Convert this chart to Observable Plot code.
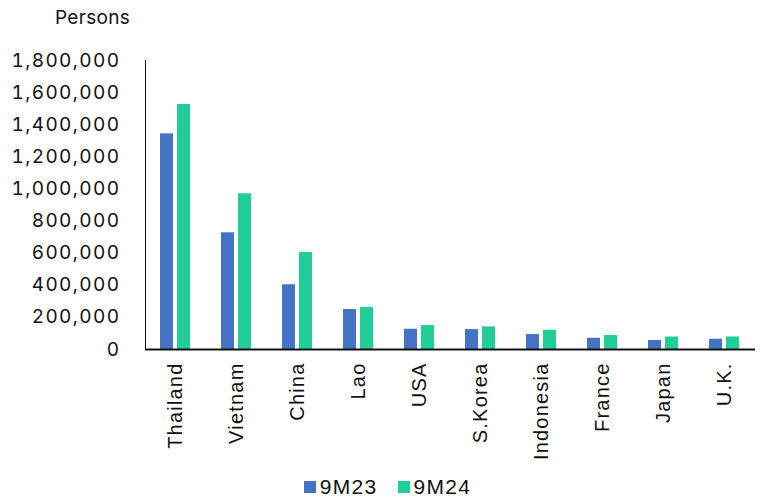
<!DOCTYPE html>
<html>
<head>
<meta charset="utf-8">
<script src="https://cdn.jsdelivr.net/npm/d3@7"></script>
<script src="https://cdn.jsdelivr.net/npm/@observablehq/plot@0.6"></script>
<style>
  html, body { margin: 0; padding: 0; background: #fff; }
  #wrap { position: relative; width: 769px; font-family: "Liberation Sans", Arial, sans-serif; color: #111; }
  #unit { position: absolute; left: 55px; top: 6px; font-family: Inter, sans-serif; font-size: 19px; letter-spacing: 0.3px; }
  #legend { display: flex; justify-content: center; align-items: center; gap: 20px; height: 33px; padding-top: 5px; font-size: 21px; letter-spacing: 1.3px; padding-left: 6px; }
  #legend span.sw { display: inline-block; width: 12px; height: 12px; margin-right: 4px; }
  #legend .item { display: flex; align-items: center; }
  svg g[aria-label="y-axis tick label"] text { font-family: Inter, sans-serif; font-size: 19px; letter-spacing: 1.4px; }
  svg g[aria-label="fx-axis tick label"] text { font-size: 20px; letter-spacing: 1.2px; }
</style>
</head>
<body>
<div id="wrap">
  <div id="unit">Persons</div>
  <div id="chart"></div>
  <div id="legend"></div>
</div>
<script>
// Visitor arrivals by nationality, first nine months of 2023 vs 2024
const countries = ["Thailand", "Vietnam", "China", "Lao", "USA", "S.Korea", "Indonesia", "France", "Japan", "U.K."];
const series = ["9M23", "9M24"];
const arrivals9M23 = [1343000, 727000, 403000, 249000, 126000, 124000, 93000, 70000, 56000, 64000];
const arrivals9M24 = [1526000, 970000, 604000, 262000, 149000, 141000, 120000, 87000, 78000, 78000];
const colors = ["#4472C4", "#21CE99"];
const yTicks = [0, 200000, 400000, 600000, 800000, 1000000, 1200000, 1400000, 1600000, 1800000];

const rows = [];
countries.forEach((c, i) => {
  rows.push({country: c, period: series[0], value: arrivals9M23[i]});
  rows.push({country: c, period: series[1], value: arrivals9M24[i]});
});

const chart = Plot.plot({
  width: 769,
  height: 465,
  marginLeft: 143,
  marginRight: 12,
  marginTop: 60,
  marginBottom: 116,
  style: {fontFamily: '"Liberation Sans", Arial, sans-serif', fontSize: "18px", color: "#111", background: "#fff"},
  fx: {domain: countries, padding: 0, label: null, tickSize: 0, tickPadding: 13, tickRotate: -90},
  x: {domain: series, axis: null, paddingInner: 0.22, paddingOuter: 0.815},
  y: {domain: [0, 1800000], ticks: yTicks, tickFormat: d3.format(","), tickSize: 0, tickPadding: 25, label: null, line: true},
  color: {domain: series, range: colors},
  marks: [
    Plot.barY(rows, {fx: "country", x: "period", y: "value", fill: "period"}),
    Plot.ruleY([0], {stroke: "#111", strokeWidth: 2})
  ]
});
document.getElementById("chart").appendChild(chart);

const legend = d3.select("#legend");
series.forEach((s, i) => {
  const item = legend.append("div").attr("class", "item");
  item.append("span").attr("class", "sw").style("background", colors[i]);
  item.append("span").text(s);
});
</script>
</body>
</html>
